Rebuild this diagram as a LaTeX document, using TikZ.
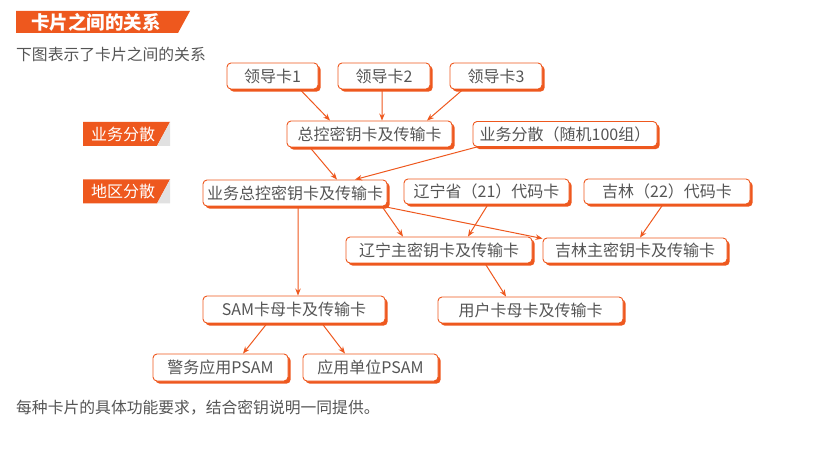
\documentclass[tikz,border=0pt]{standalone}
\usepackage{fontspec}
\setmainfont{Noto Sans CJK SC}
\usetikzlibrary{shadows,arrows.meta}
\definecolor{org}{RGB}{238,88,30}
\definecolor{txt}{RGB}{85,85,85}
\definecolor{gry}{RGB}{225,225,225}
\tikzset{
  card/.style={draw=org, line width=0.9bp, fill=white, rounded corners=4bp,
    minimum height=26bp, inner sep=0pt, text=txt, font=\fontsize{16bp}{18bp}\selectfont,
    drop shadow={shadow xshift=2.6bp, shadow yshift=-2.6bp, fill=org, opacity=1}},
  link/.style={draw=org, line width=1bp, -{Stealth[length=7bp,width=5.5bp]}},
  tag/.style={text=white, font=\fontsize{16bp}{18bp}\selectfont, anchor=west, inner sep=0pt},
  plain/.style={text=txt, font=\fontsize{15.8bp}{18bp}\selectfont, anchor=west, inner sep=0pt}
}
\begin{document}
\begin{tikzpicture}[x=1bp,y=-1bp]
\useasboundingbox (0,0) rectangle (836,460);
% title banner
\fill[org] (16,11) -- (190,11) -- (178,33) -- (16,33) -- cycle;
\node[anchor=west, inner sep=0pt, text=white, font=\fontsize{18.5bp}{20bp}\selectfont\bfseries] (title) at (31,22) {卡片之间的关系};
\node[plain] (sub) at (16,54) {下图表示了卡片之间的关系};
% side labels
\fill[org] (83,122) -- (170,122) -- (157,146) -- (83,146) -- cycle;
\fill[gry] (170,122) -- (170,146) -- (157,146) -- cycle;
\node[tag] (lab1) at (91,134) {业务分散};
\fill[org] (83,179.5) -- (170,179.5) -- (157,203.5) -- (83,203.5) -- cycle;
\fill[gry] (170,179.5) -- (170,203.5) -- (157,203.5) -- cycle;
\node[tag] (lab2) at (91,191.5) {地区分散};
% cards
\node[card, minimum width=91bp] (ld1) at (272.5,76) {领导卡1};
\node[card, minimum width=92bp] (ld2) at (384,76) {领导卡2};
\node[card, minimum width=92bp] (ld3) at (496,76) {领导卡3};
\node[card, minimum width=165bp] (zk) at (369.5,134) {总控密钥卡及传输卡};
\node[card, minimum width=184bp, minimum height=25bp] (yw) at (565,134) {业务分散（随机100组）};
\node[card, minimum width=184bp] (ywzk) at (295,193) {业务总控密钥卡及传输卡};
\node[card, minimum width=165bp, minimum height=25bp] (ln) at (486.5,191.5) {辽宁省（21）代码卡};
\node[card, minimum width=166bp, minimum height=25bp] (jl) at (667,191.5) {吉林（22）代码卡};
\node[card, minimum width=186bp] (lnz) at (439,250) {辽宁主密钥卡及传输卡};
\node[card, minimum width=184bp, minimum height=25bp] (jlz) at (635,250.5) {吉林主密钥卡及传输卡};
\node[card, minimum width=182bp, minimum height=27bp] (sam) at (294,309.5) {SAM卡母卡及传输卡};
\node[card, minimum width=185bp] (yh) at (530.5,310) {用户卡母卡及传输卡};
\node[card, minimum width=135bp, minimum height=27bp] (jw) at (220.5,367.5) {警务应用PSAM};
\node[card, minimum width=135bp, minimum height=27bp] (yy) at (370.5,367.5) {应用单位PSAM};
% bottom text
\node[plain] (note) at (16,408) {每种卡片的具体功能要求，结合密钥说明一同提供。};
% connectors
\draw[link] ([xshift=27.5bp]ld1.south) -- ([xshift=-39.5bp]zk.north);
\draw[link] ([xshift=-2bp]ld2.south) -- ([xshift=12.5bp]zk.north);
\draw[link] ([xshift=-33bp]ld3.south) -- ([xshift=57.5bp]zk.north);
\draw[link] ([xshift=-59.5bp]zk.south) -- ([xshift=42bp]ywzk.north);
\draw[link] ([xshift=-88bp]yw.south) -- ([xshift=60bp]ywzk.north);
\draw[link] ([xshift=87bp]ywzk.south) -- ([xshift=-36bp]lnz.north);
\draw[link] ([xshift=-4bp]ywzk.south east) -- ([yshift=-1bp]jlz.north west);
\draw[link] ([xshift=1.5bp]ln.south) -- ([xshift=29bp]lnz.north);
\draw[link] ([xshift=-4bp]jl.south) -- ([xshift=5bp]jlz.north);
\draw[link] ([xshift=3bp]ywzk.south) -- ([xshift=4bp]sam.north);
\draw[link] ([xshift=46bp]lnz.south) -- ([xshift=-24.5bp]yh.north);
\draw[link] ([xshift=-27bp]sam.south) -- ([xshift=22.5bp]jw.north);
\draw[link] ([xshift=28bp]sam.south) -- ([xshift=-25.5bp]yy.north);
\end{tikzpicture}
\end{document}
